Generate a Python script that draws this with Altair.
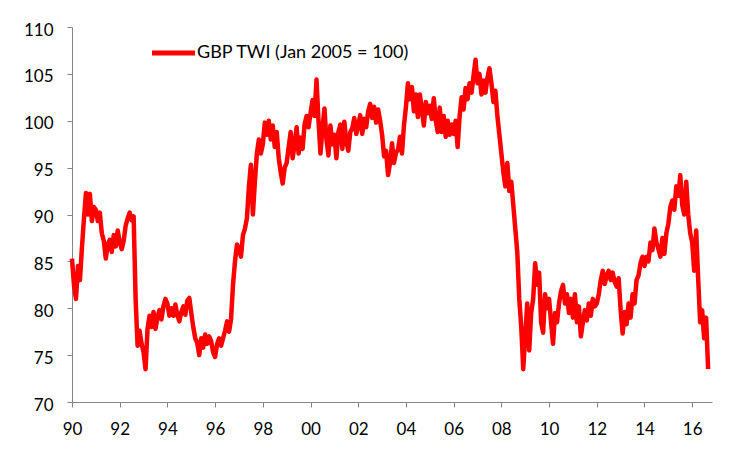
import altair as alt
import pandas as pd

series_name = "GBP TWI (Jan 2005 = 100)"

# Monthly readings (Jan..Dec) of the GBP trade-weighted index
v1990 = [85.3, 82.5, 81.0, 84.5, 83.0, 86.5, 89.5, 92.3, 90.0, 92.2, 89.3, 90.8]
v1991 = [90.5, 89.3, 90.2, 88.0, 87.2, 85.3, 86.8, 87.3, 86.0, 87.8, 86.6, 88.3]
v1992 = [87.0, 86.3, 87.2, 88.8, 89.6, 90.2, 89.4, 89.8, 81.0, 76.0, 77.6, 76.2]
v1993 = [75.3, 73.5, 77.8, 79.2, 78.0, 79.6, 77.8, 79.0, 79.8, 78.8, 80.2, 81.0]
v1994 = [80.5, 79.2, 80.0, 79.2, 80.4, 79.3, 78.6, 79.6, 80.2, 79.3, 80.8, 81.1]
v1995 = [79.5, 78.0, 76.8, 76.3, 75.0, 76.8, 75.8, 77.2, 76.2, 77.0, 76.5, 75.3]
v1996 = [74.8, 76.2, 76.8, 76.0, 76.8, 77.6, 78.6, 77.5, 78.8, 82.5, 85.0, 86.8]
v1997 = [86.3, 85.5, 87.8, 88.5, 89.6, 93.0, 95.3, 90.0, 93.5, 96.5, 98.0, 96.5]
v1998 = [97.5, 99.8, 98.5, 100.0, 98.0, 99.5, 97.2, 98.8, 96.0, 94.5, 93.3, 95.0]
v1999 = [95.5, 97.2, 98.8, 96.0, 97.5, 99.3, 96.5, 98.2, 97.0, 99.6, 100.5, 99.3]
v2000 = [100.8, 102.2, 100.5, 104.4, 100.0, 96.5, 99.2, 101.3, 98.0, 96.3, 99.5, 97.5]
v2001 = [98.5, 96.0, 98.8, 99.6, 97.0, 99.9, 97.8, 96.8, 98.8, 99.2, 100.3, 98.6]
v2002 = [99.5, 100.6, 98.6, 100.2, 99.3, 101.0, 101.8, 100.3, 101.5, 99.8, 101.2, 100.0]
v2003 = [98.5, 96.2, 96.8, 94.2, 95.5, 97.6, 95.5, 96.6, 96.9, 98.3, 96.5, 99.5]
v2004 = [101.5, 104.0, 102.3, 103.6, 101.0, 102.8, 100.4, 102.8, 101.2, 99.5, 102.0, 100.8]
v2005 = [101.6, 100.2, 102.4, 100.0, 98.8, 101.4, 98.8, 100.5, 98.3, 100.0, 98.5, 99.6]
v2006 = [98.6, 100.0, 97.2, 100.5, 102.5, 101.2, 103.5, 102.3, 104.0, 103.0, 104.8, 106.5]
v2007 = [104.0, 105.0, 102.8, 104.3, 103.0, 104.6, 105.6, 104.0, 102.0, 103.2, 100.5, 98.5]
v2008 = [96.5, 94.5, 93.0, 95.5, 92.5, 93.5, 91.0, 88.5, 86.0, 81.0, 78.0, 73.5]
v2009 = [77.0, 80.5, 75.5, 79.5, 81.0, 84.8, 82.5, 83.8, 78.5, 77.4, 81.5, 80.0]
v2010 = [81.0, 78.5, 76.2, 79.5, 78.5, 80.5, 81.8, 82.5, 80.5, 81.5, 79.5, 81.0]
v2011 = [79.0, 81.5, 78.5, 80.2, 77.0, 78.5, 79.8, 78.7, 80.5, 79.2, 81.0, 80.2]
v2012 = [80.5, 81.5, 83.0, 84.0, 82.6, 83.5, 84.0, 83.0, 83.8, 82.8, 82.3, 83.2]
v2013 = [79.8, 77.3, 79.6, 78.3, 80.5, 79.0, 81.5, 80.5, 83.0, 83.5, 84.8, 85.5]
v2014 = [84.5, 85.5, 85.0, 87.0, 86.2, 88.5, 87.0, 86.3, 85.5, 87.5, 85.8, 88.0]
v2015 = [89.0, 90.8, 91.5, 90.5, 93.0, 92.0, 94.2, 91.0, 90.0, 93.5, 90.0, 88.0]
v2016 = [87.0, 84.0, 88.3, 83.2, 78.5, 79.8, 76.8, 79.0, 73.5]

values = (v1990 + v1991 + v1992 + v1993 + v1994 + v1995 + v1996 + v1997 + v1998
          + v1999 + v2000 + v2001 + v2002 + v2003 + v2004 + v2005 + v2006 + v2007
          + v2008 + v2009 + v2010 + v2011 + v2012 + v2013 + v2014 + v2015 + v2016)

x_ticks = list(range(1990, 2017, 2))
y_ticks = list(range(70, 111, 5))

df = pd.DataFrame({"t": [1990 + i / 12 for i in range(len(values))], "v": values})
leg_df = pd.DataFrame({"label": [series_name]})

line = alt.Chart(df).mark_line(color="#FF0000", strokeWidth=4.5, strokeJoin="round").encode(
    x=alt.X("t:Q",
            scale=alt.Scale(domain=[1990, 2016.83], nice=False, zero=False),
            axis=alt.Axis(values=x_ticks, title=None, grid=False,
                          labelExpr="substring(toString(datum.value), 2)",
                          labelPadding=14, labelFlush=False)),
    y=alt.Y("v:Q",
            scale=alt.Scale(domain=[70, 110], nice=False, zero=False),
            axis=alt.Axis(values=y_ticks, title=None, grid=False,
                          labelPadding=14, labelOffset=3)),
)

leg_rule = alt.Chart(leg_df).mark_rule(color="#FF0000", strokeWidth=5).encode(
    x=alt.value(80), x2=alt.value(123), y=alt.value(26))
leg_text = alt.Chart(leg_df).mark_text(
    align="left", baseline="middle", fontSize=18, font="Lato", color="#000000"
).encode(x=alt.value(125), y=alt.value(26), text="label:N")

chart = alt.layer(line, leg_rule, leg_text).properties(
    width=640, height=375,
    padding={"left": 64, "top": 19, "right": 20, "bottom": 40},
    autosize="none",
).configure_view(stroke=None).configure_axis(
    labelFont="Lato", labelFontSize=17, labelColor="#000000",
    domainColor="#868686", tickColor="#868686", tickSize=5,
    domainWidth=1, tickWidth=1,
)

chart.save("out.html", embed_options={"renderer": "svg", "actions": False})
